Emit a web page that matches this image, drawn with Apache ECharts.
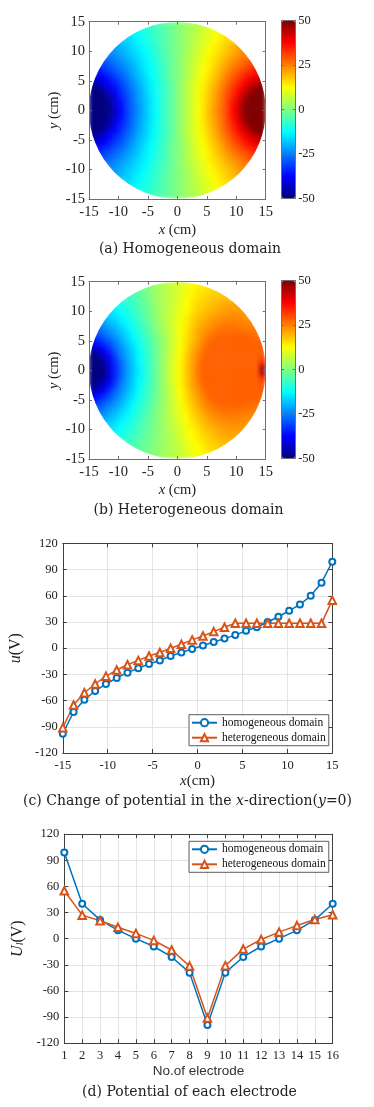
<!DOCTYPE html>
<html><head><meta charset="utf-8">
<script src="https://cdn.jsdelivr.net/npm/echarts@6/dist/echarts.min.js"></script>
<style>html,body{margin:0;padding:0;background:#fff}#c{width:374px;height:1107px}
#c canvas[data-zr-dom-id="zr_1"]{filter:blur(2px)}</style>
</head><body><div id="c"></div>
<script>
// ---------- DATA ----------
// cell centres (cm) of the potential maps, left->right and bottom->top
const cellCentres = [-14.5,-13.5,-12.5,-11.5,-10.5,-9.5,-8.5,-7.5,-6.5,-5.5,-4.5,-3.5,-2.5,-1.5,-0.5,0.5,1.5,2.5,3.5,4.5,5.5,6.5,7.5,8.5,9.5,10.5,11.5,12.5,13.5,14.5];
// rows from top (y=14.5) to bottom (y=-14.5); each row holds the cells inside the disc, centred
const homField = [
[-9,-7,-6,-4,-3,-1,1,3,4,6,7,9],
[-13,-11,-10,-8,-6,-4,-3,-1,1,3,4,6,8,10,11,13],
[-16,-14,-12,-10,-9,-7,-5,-3,-1,1,3,5,7,9,10,12,14,16],
[-20,-18,-17,-15,-13,-11,-9,-7,-5,-3,-1,1,3,5,7,9,11,13,15,17,18,20],
[-23,-22,-20,-18,-16,-14,-12,-10,-8,-5,-3,-1,1,3,5,8,10,12,14,16,18,20,22,23],
[-25,-23,-21,-19,-17,-15,-13,-10,-8,-6,-4,-1,1,4,6,8,10,13,15,17,19,21,23,25],
[-29,-27,-25,-23,-21,-18,-16,-14,-11,-9,-6,-4,-1,1,4,6,9,11,14,16,18,21,23,25,27,29],
[-33,-31,-29,-27,-25,-22,-20,-17,-14,-12,-9,-7,-4,-1,1,4,7,9,12,14,17,20,22,25,27,29,31,33],
[-36,-34,-32,-29,-27,-24,-21,-18,-15,-12,-10,-7,-4,-1,1,4,7,10,12,15,18,21,24,27,29,32,34,36],
[-42,-40,-38,-35,-32,-29,-26,-22,-19,-16,-13,-10,-7,-4,-1,1,4,7,10,13,16,19,22,26,29,32,35,38,40,42],
[-46,-44,-41,-38,-34,-31,-27,-24,-20,-17,-14,-11,-8,-5,-2,2,5,8,11,14,17,20,24,27,31,34,38,41,44,46],
[-52,-50,-46,-41,-37,-33,-29,-25,-21,-18,-14,-11,-8,-5,-2,2,5,8,11,14,18,21,25,29,33,37,41,46,50,52],
[-60,-56,-50,-45,-39,-34,-30,-26,-22,-18,-15,-11,-8,-5,-2,2,5,8,11,15,18,22,26,30,34,39,45,50,56,60],
[-72,-64,-55,-48,-41,-36,-31,-26,-22,-19,-15,-12,-8,-5,-2,2,5,8,12,15,19,22,26,31,36,41,48,55,64,72],
[-91,-71,-58,-49,-42,-37,-31,-27,-23,-19,-15,-12,-8,-5,-2,2,5,8,12,15,19,23,27,31,37,42,49,58,71,91],
[-91,-71,-58,-49,-42,-37,-31,-27,-23,-19,-15,-12,-8,-5,-2,2,5,8,12,15,19,23,27,31,37,42,49,58,71,91],
[-72,-64,-55,-48,-41,-36,-31,-26,-22,-19,-15,-12,-8,-5,-2,2,5,8,12,15,19,22,26,31,36,41,48,55,64,72],
[-60,-56,-50,-45,-39,-34,-30,-26,-22,-18,-15,-11,-8,-5,-2,2,5,8,11,15,18,22,26,30,34,39,45,50,56,60],
[-52,-50,-46,-41,-37,-33,-29,-25,-21,-18,-14,-11,-8,-5,-2,2,5,8,11,14,18,21,25,29,33,37,41,46,50,52],
[-46,-44,-41,-38,-34,-31,-27,-24,-20,-17,-14,-11,-8,-5,-2,2,5,8,11,14,17,20,24,27,31,34,38,41,44,46],
[-42,-40,-38,-35,-32,-29,-26,-22,-19,-16,-13,-10,-7,-4,-1,1,4,7,10,13,16,19,22,26,29,32,35,38,40,42],
[-36,-34,-32,-29,-27,-24,-21,-18,-15,-12,-10,-7,-4,-1,1,4,7,10,12,15,18,21,24,27,29,32,34,36],
[-33,-31,-29,-27,-25,-22,-20,-17,-14,-12,-9,-7,-4,-1,1,4,7,9,12,14,17,20,22,25,27,29,31,33],
[-29,-27,-25,-23,-21,-18,-16,-14,-11,-9,-6,-4,-1,1,4,6,9,11,14,16,18,21,23,25,27,29],
[-25,-23,-21,-19,-17,-15,-13,-10,-8,-6,-4,-1,1,4,6,8,10,13,15,17,19,21,23,25],
[-23,-22,-20,-18,-16,-14,-12,-10,-8,-5,-3,-1,1,3,5,8,10,12,14,16,18,20,22,23],
[-20,-18,-17,-15,-13,-11,-9,-7,-5,-3,-1,1,3,5,7,9,11,13,15,17,18,20],
[-16,-14,-12,-10,-9,-7,-5,-3,-1,1,3,5,7,9,10,12,14,16],
[-13,-11,-10,-8,-6,-4,-3,-1,1,3,4,6,8,10,11,13],
[-9,-7,-6,-4,-3,-1,1,3,4,6,7,9]
];
const hetField = [
[-0.5,1,3.5,5,6,7.5,9,10.5,12,13.5,14,15],
[-4.5,-3,-1,0.5,3,4.5,6,7.5,9,11,13,14.5,15,16,16.5,17.5],
[-7,-5.5,-4,-2,0.5,3,4.5,6,7.5,9.5,11.5,13.5,15,16,17,17.5,18.5,19],
[-11.5,-10,-8,-6.5,-4.5,-2.5,0,2.5,4.5,6,8,10,12.5,14.5,16,17,18,19,20,20.5,20.5,20.5],
[-14.5,-13,-11,-9.5,-7.5,-5.5,-3,-0.5,2,4,6,8,10,12.5,14.5,16.5,17.5,19,20,21,22,22,22,21.5],
[-16.5,-14.5,-12.5,-10.5,-8.5,-6,-3.5,-1,2,4,6.5,8.5,10.5,13,15.5,17.5,19,20.5,21.5,22.5,23,23.5,23,23],
[-20.5,-18.5,-16.5,-14,-12,-9.5,-7,-4,-1.5,1.5,4,6.5,9,11.5,14,16.5,19,20,22,23,24,24.5,24.5,24.5,24,23.5],
[-25,-23,-21,-18.5,-16,-13.5,-10.5,-8,-5.5,-2.5,1,3.5,6,9,11.5,14,17,19.5,21.5,23,24.5,25.5,26,26,25.5,25,25,24.5],
[-28,-26,-23.5,-21,-18,-15,-12,-9,-6.5,-3,0.5,3,6,9,12,15,18,21,23,24.5,26,27,27,27,27,26.5,26,26],
[-33.5,-32,-29,-26.5,-23,-20,-16.5,-13,-10,-7,-4,-1,2,5,8.5,11.5,15,18,21,24,26,27.5,28,28,28,28,28,27.5,27,27],
[-38,-36,-33,-30,-26,-22,-18,-15,-11,-8,-5,-1.5,2,5,9,12,15.5,19,22,25,27.5,28,28,28,28,28,28,28,28,27.5],
[-44,-42,-38,-33,-28,-24,-20,-16,-12,-9,-5,-2,2,5,9,12.5,16,20,23,26.5,28,28,28,28,28,28,28,28,28,29],
[-52,-48,-42,-37,-31,-25,-21,-17,-13,-9,-6,-2,2,6,9,13,17,21,24,27.5,28,28,28,28,28,28,28,28,28,29],
[-64,-56,-47,-40,-33,-27,-22,-17,-13,-10,-6,-2,2,6,10,13,17,21,25,28,28,28,28,28,28,28,28,28,28,33],
[-83,-63,-50,-41,-34,-28,-22,-18,-14,-10,-6,-2,2,6,10,13.5,17.5,21.5,25.5,28,28,28,28,28,28,28,28,28,28,46],
[-83,-63,-50,-41,-34,-28,-22,-18,-14,-10,-6,-2,2,6,10,13.5,17.5,21.5,25.5,28,28,28,28,28,28,28,28,28,28,46],
[-64,-56,-47,-40,-33,-27,-22,-17,-13,-10,-6,-2,2,6,10,13,17,21,25,28,28,28,28,28,28,28,28,28,28,33],
[-52,-48,-42,-37,-31,-25,-21,-17,-13,-9,-6,-2,2,6,9,13,17,21,24,27.5,28,28,28,28,28,28,28,28,28,29],
[-44,-42,-38,-33,-28,-24,-20,-16,-12,-9,-5,-2,2,5,9,12.5,16,20,23,26.5,28,28,28,28,28,28,28,28,28,29],
[-38,-36,-33,-30,-26,-22,-18,-15,-11,-8,-5,-1.5,2,5,9,12,15.5,19,22,25,27.5,28,28,28,28,28,28,28,28,27.5],
[-33.5,-32,-29,-26.5,-23,-20,-16.5,-13,-10,-7,-4,-1,2,5,8.5,11.5,15,18,21,24,26,27.5,28,28,28,28,28,27.5,27,27],
[-28,-26,-23.5,-21,-18,-15,-12,-9,-6.5,-3.5,-0.5,2,5,8,11,14,17,20,22.5,24.5,26,27,27,27,27,26.5,26,26],
[-25,-23,-21,-18.5,-16,-13.5,-10.5,-8,-5.5,-3,0,2.5,5,8,10.5,13,16,18.5,21,23,24.5,25.5,26,26,25.5,25,25,24.5],
[-20.5,-18.5,-16.5,-14,-12,-9.5,-7,-4.5,-2.5,0,2.5,5,7.5,10,12.5,15,17.5,19.5,21.5,23,24,24.5,24.5,24.5,24,23.5],
[-16.5,-14.5,-12.5,-10.5,-8.5,-6,-4,-2,0.5,2.5,5,7,9,11.5,14,16,18.5,20,21.5,22.5,23,23.5,23,23],
[-14.5,-13,-11,-9.5,-7.5,-5.5,-3.5,-1.5,0.5,2.5,4.5,6.5,8.5,11,13,15,17,18.5,20,21,22,22,22,21.5],
[-11.5,-10,-8,-6.5,-4.5,-3,-1,0.5,2.5,4,6,8,10.5,12.5,14,16,17.5,19,20,20.5,20.5,20.5],
[-7,-5.5,-4,-2.5,-0.5,1,2.5,4,5.5,7.5,9.5,11.5,13,15,16.5,17.5,18.5,19],
[-4.5,-3,-1.5,-0.5,1,2.5,4,5.5,7,9,11,12.5,14,15.5,16.5,17.5],
[-1,0,1.5,3,4,5.5,7,8.5,10,11.5,13,14.5]
];
const mapTicks = [-15,-10,-5,0,5,10,15];
const colorbarTicks = [-50,-25,0,25,50];

// (c) potential along y = 0
const lineX = [-15,-13.8,-12.6,-11.4,-10.2,-9,-7.8,-6.6,-5.4,-4.2,-3,-1.8,-0.6,0.6,1.8,3,4.2,5.4,6.6,7.8,9,10.2,11.4,12.6,13.8,15];
const homLine = [-98,-73,-59,-49,-41,-34,-28,-23,-18,-14,-9,-5,-1,3,7,11,15,20,24,30,36,43,50,60,75,99];
const hetLine = [-91,-65,-51,-41,-32,-25,-19,-14,-9,-5,0,4.5,9.5,14,19,24,28.5,28.5,28.5,28.5,28.5,28.5,28.5,28.5,28.5,55];

// (d) electrode potentials
const electrodes = [1,2,3,4,5,6,7,8,9,10,11,12,13,14,15,16];
const homElec = [99,40,21.5,9.5,0,-9,-21,-39,-99,-39,-21,-9,0,9.5,21.5,40];
const hetElec = [55,27,20.5,13,6,-2,-13,-31.5,-91,-31,-12,-1,7.5,15,22,27.5];

const seriesNames = ['homogeneous domain','heterogeneous domain'];

// ---------- STYLE / LAYOUT ----------
const SERIF = 'Liberation Serif';
const CAP = 'DejaVu Serif';
const TXT = '#222';
const FRAME_MAP = '#707070';
const FRAME_LINE = '#404040';
const GRIDC = '#e4e4e4';
const BLUE = '#0072BD', ORANGE = '#D95319';
const JET = ['#000080','#0000ff','#0080ff','#00ffff','#80ff80','#ffff00','#ff8000','#ff0000','#800000'];

const G = {
  a:  {left:89, top:21.7, width:176.7, height:177.3},
  cbA:{left:281.7, top:20.7, width:13.5, height:177.6},
  b:  {left:89, top:281.7, width:176.7, height:177.3},
  cbB:{left:281.7, top:280.7, width:13.5, height:177.6},
  c:  {left:59, top:543.4, width:273.3, height:209.6},
  d:  {left:64.3, top:834.1, width:268.4, height:209.1}
};

function buildHeat(rows){
  const out = [];
  const n = cellCentres.length;
  rows.forEach((row, r) => {
    const yIdx = n - 1 - r;
    const off = (n - row.length) / 2;
    row.forEach((v, k) => out.push([off + k, yIdx, v]));
  });
  return out;
}

function frameAxis(gridIndex, position, o){
  o = o || {};
  const ax = {
    type: 'value', gridIndex, position, z: o.z == null ? 10 : o.z, zlevel: o.zlevel || 0,
    min: o.min, max: o.max, interval: o.interval,
    axisLine: {show: true, onZero: false, lineStyle: {color: o.frame, width: 1}},
    axisTick: {show: o.tick !== false, inside: true, length: o.tickLen || 3, lineStyle: {color: o.frame, width: 1}},
    axisLabel: o.label ? Object.assign({show: true, fontFamily: SERIF, color: TXT}, o.label) : {show: false},
    splitLine: o.split ? {show: true, lineStyle: {color: GRIDC, width: 1}} : {show: false}
  };
  if (o.name) {
    ax.name = o.name; ax.nameLocation = 'middle'; ax.nameGap = o.nameGap;
    ax.nameTextStyle = Object.assign({fontFamily: SERIF, color: TXT, fontSize: 14.5,
      rich: {i: {fontFamily: SERIF, fontStyle: 'italic', color: TXT, fontSize: o.nameSize || 14.5},
             s: {fontFamily: SERIF, fontStyle: 'italic', color: TXT, fontSize: 10, verticalAlign: 'bottom', lineHeight: 14}}},
      o.nameStyle || {});
  }
  return ax;
}

const mapLabelX = {fontSize: 14.5, margin: 6};
const mapLabelY = {fontSize: 14.5, margin: 4};
const mapRange = {min: mapTicks[0], max: mapTicks[mapTicks.length-1], interval: mapTicks[1]-mapTicks[0], frame: FRAME_MAP, zlevel: 2};
const cbRange = {min: colorbarTicks[0], max: colorbarTicks[colorbarTicks.length-1], interval: colorbarTicks[1]-colorbarTicks[0], frame: FRAME_MAP, tickLen: 2.5};
const cbEdge = {min:0, max:1, frame:FRAME_MAP, tick:false};

const xAxes = [], yAxes = [];
// 0: (a) category axes carrying the cells
xAxes.push({type:'category', gridIndex:0, data: cellCentres, show:false});
yAxes.push({type:'category', gridIndex:0, data: cellCentres, show:false});
// 1,2: (a) frame axes
xAxes.push(frameAxis(0,'bottom', Object.assign({label: mapLabelX, name:'{i|x} (cm)', nameGap: 23.5}, mapRange)));
xAxes.push(frameAxis(0,'top', mapRange));
yAxes.push(frameAxis(0,'left', Object.assign({label: mapLabelY, name:'{i|y} (cm)', nameGap: 24.5}, mapRange)));
yAxes.push(frameAxis(0,'right', mapRange));
// 3: (b) category axes
xAxes.push({type:'category', gridIndex:2, data: cellCentres, show:false});
yAxes.push({type:'category', gridIndex:2, data: cellCentres, show:false});
// 4,5: (b) frame axes
xAxes.push(frameAxis(2,'bottom', Object.assign({label: mapLabelX, name:'{i|x} (cm)', nameGap: 23.5}, mapRange)));
xAxes.push(frameAxis(2,'top', mapRange));
yAxes.push(frameAxis(2,'left', Object.assign({label: mapLabelY, name:'{i|y} (cm)', nameGap: 24.5}, mapRange)));
yAxes.push(frameAxis(2,'right', mapRange));
// 6,7: colorbar A
xAxes.push(frameAxis(1,'bottom', cbEdge));
xAxes.push(frameAxis(1,'top', cbEdge));
yAxes.push(frameAxis(1,'right', Object.assign({label:{fontSize:12.5, margin:3}}, cbRange)));
yAxes.push(frameAxis(1,'left', cbRange));
// 8,9: colorbar B
xAxes.push(frameAxis(3,'bottom', cbEdge));
xAxes.push(frameAxis(3,'top', cbEdge));
yAxes.push(frameAxis(3,'right', Object.assign({label:{fontSize:12.5, margin:3}}, cbRange)));
yAxes.push(frameAxis(3,'left', cbRange));
// 10,11: (c)
const cX = {min:-15, max:15, interval:5, frame:FRAME_LINE, tickLen:4, z:1};
const uY = {min:-120, max:120, interval:30, frame:FRAME_LINE, tickLen:4, z:1};
xAxes.push(frameAxis(4,'bottom', Object.assign({label:{fontSize:12.5, margin:6}, split:true, name:'{i|x}(cm)', nameGap:21, nameStyle:{fontSize:15}, nameSize:15}, cX)));
xAxes.push(frameAxis(4,'top', cX));
yAxes.push(frameAxis(4,'left', Object.assign({label:{fontSize:12.5, margin:5}, split:true, name:'{i|u}(V)', nameGap:28, nameStyle:{fontSize:16}, nameSize:16}, uY)));
yAxes.push(frameAxis(4,'right', uY));
// 12,13: (d)
const dX = {min:electrodes[0], max:electrodes[electrodes.length-1], interval:1, frame:FRAME_LINE, tickLen:4, z:1};
xAxes.push(frameAxis(5,'bottom', Object.assign({label:{fontSize:12.5, margin:6.5}, split:true, name:'No.of electrode', nameGap:21.5,
  nameStyle:{fontFamily:'Liberation Sans', fontSize:13.5, color:'#333'}}, dX)));
xAxes.push(frameAxis(5,'top', dX));
yAxes.push(frameAxis(5,'left', Object.assign({label:{fontSize:12.5, margin:5}, split:true, name:'{i|U}{s|l}(V)', nameGap:33, nameStyle:{fontSize:16}, nameSize:16}, uY)));
yAxes.push(frameAxis(5,'right', uY));

function lineSeries(name, xi, xs, ys, color, symbol, size){
  return {
    type:'line', name, xAxisIndex: xi, yAxisIndex: xi,
    data: xs.map((x,i)=>[x, ys[i]]),
    symbol, symbolSize: size, showAllSymbol: true, clip: false,
    lineStyle: {color, width: 1.5},
    itemStyle: {color, borderColor: color, borderWidth: 1},
    emphasis: {disabled: true}, z: 5, animation: false
  };
}

function ring(gr){
  const cx = gr.left + gr.width/2, cy = gr.top + gr.height/2;
  const R = Math.min(gr.width, gr.height)/2;
  return {type:'circle', silent:true, zlevel: 2, z: 6, shape:{cx, cy, r: R + 7}, style:{fill:'none', stroke:'#fff', lineWidth: 14}};
}
function caption(text, x, y){
  return {type:'text', x, y, z: 20, silent:true, style:{text, fontFamily: CAP, fontSize: 14, fill: TXT,
    textAlign:'center', textVerticalAlign:'middle', align:'center', verticalAlign:'middle',
    rich:{i:{fontFamily: CAP, fontSize: 14, fontStyle:'italic', fill: TXT}}}};
}

const legendBase = {
  orient:'vertical', left: 189, itemWidth: 25, itemHeight: 9, itemGap: 3,
  padding:[2,3,2,2], borderColor:'#333', borderWidth: 0.8, backgroundColor:'#fff',
  textStyle:{fontFamily: SERIF, fontSize: 11.5, color:'#111'}, selectedMode:false, data: seriesNames, z: 20
};

const option = {
  animation: false,
  backgroundColor: '#fff',
  grid: [G.a, G.cbA, G.b, G.cbB, G.c, G.d].map(g => Object.assign({containLabel:false}, g)),
  xAxis: xAxes,
  yAxis: yAxes,
  visualMap: [
    {type:'continuous', seriesIndex:0, min:colorbarTicks[0], max:colorbarTicks[4], calculable:false, hoverLink:false, orient:'vertical',
     left:G.cbA.left, top:G.cbA.top, itemWidth:G.cbA.width, itemHeight:G.cbA.height, padding:0, inRange:{color:JET}, z:4},
    {type:'continuous', seriesIndex:1, min:colorbarTicks[0], max:colorbarTicks[4], calculable:false, hoverLink:false, orient:'vertical',
     left:G.cbB.left, top:G.cbB.top, itemWidth:G.cbB.width, itemHeight:G.cbB.height, padding:0, inRange:{color:JET}, z:4}
  ],
  legend: [
    Object.assign({}, legendBase, {top: 714.7}),
    Object.assign({}, legendBase, {top: 841.3})
  ],
  series: [
    {type:'heatmap', xAxisIndex:0, yAxisIndex:0, data: buildHeat(homField), zlevel:1, z:2, emphasis:{disabled:true}, progressive:0},
    {type:'heatmap', xAxisIndex:3, yAxisIndex:3, data: buildHeat(hetField), zlevel:1, z:2, emphasis:{disabled:true}, progressive:0},
    lineSeries(seriesNames[0], 10, lineX, homLine, BLUE, 'emptyCircle', 6),
    lineSeries(seriesNames[1], 10, lineX, hetLine, ORANGE, 'emptyTriangle', 7.5),
    lineSeries(seriesNames[0], 12, electrodes, homElec, BLUE, 'emptyCircle', 6),
    lineSeries(seriesNames[1], 12, electrodes, hetElec, ORANGE, 'emptyTriangle', 7.5)
  ],
  graphic: [
    ring(G.a), ring(G.b),
    caption('(a) Homogeneous domain', 190, 249),
    caption('(b) Heterogeneous domain', 188.5, 510),
    caption('(c) Change of potential in the {i|x}-direction({i|y}=0)', 187.5, 801.7),
    caption('(d) Potential of each electrode', 189.5, 1092)
  ]
};

const chart = echarts.init(document.getElementById('c'), null, {renderer:'canvas', width:374, height:1107});
chart.setOption(option);
</script>
</body></html>
